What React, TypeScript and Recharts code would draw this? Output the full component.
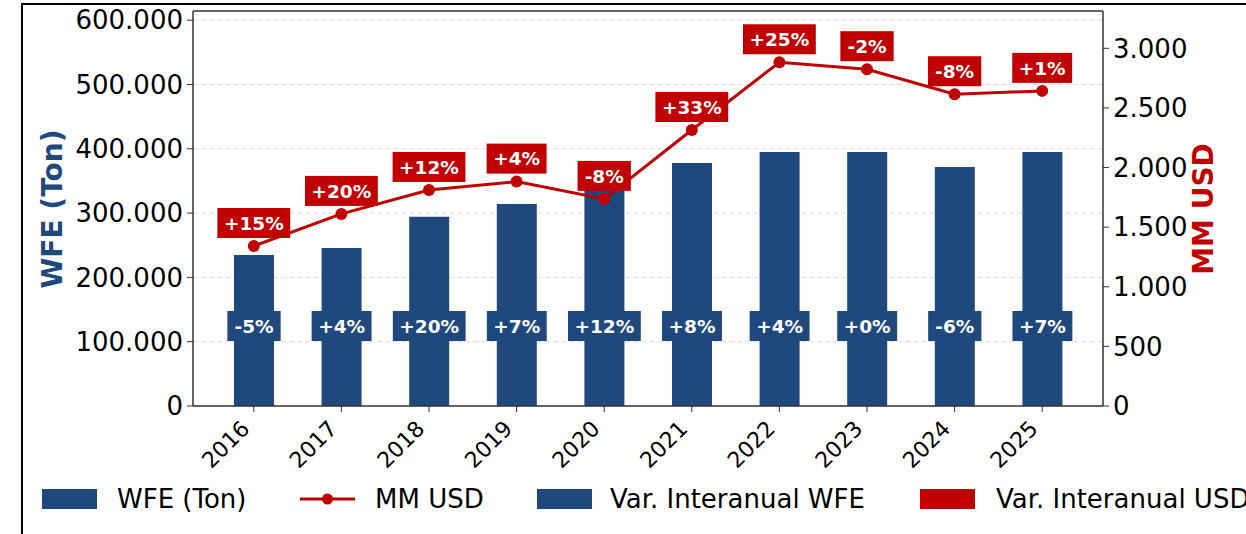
import React from "react";
import {
  ComposedChart,
  Bar,
  Line,
  XAxis,
  YAxis,
  CartesianGrid,
  LabelList,
  ReferenceLine,
} from "recharts";

const years = ["2016", "2017", "2018", "2019", "2020", "2021", "2022", "2023", "2024", "2025"];
const wfeTon = [234800, 245700, 294400, 314000, 350000, 377900, 395000, 395000, 371700, 395000];
const mmUsd = [1342, 1611, 1812, 1882, 1737, 2315, 2883, 2825, 2615, 2643];
const varWfe = ["-5%", "+4%", "+20%", "+7%", "+12%", "+8%", "+4%", "+0%", "-6%", "+7%"];
const varUsd = ["+15%", "+20%", "+12%", "+4%", "-8%", "+33%", "+25%", "-2%", "-8%", "+1%"];
const leftTicks = [0, 100000, 200000, 300000, 400000, 500000, 600000];
const rightTicks = [0, 500, 1000, 1500, 2000, 2500, 3000];

const BLUE = "#1f497d";
const RED = "#c00000";
const FONT = "DejaVu Sans";
const LEFT_MAX = 614300;
const RIGHT_MAX = 3313;
const BADGE_FONT = 18.5;

const data = years.map((year, i) => ({
  year,
  wfe: wfeTon[i],
  usd: mmUsd[i],
  varWfe: varWfe[i],
  varUsd: varUsd[i],
}));

// thousands with a dot, like 600.000
const fmt = (v: number) => String(v).replace(/\B(?=(\d{3})+(?!\d))/g, ".");

// rough width of the bold badge text
const textWidth = (s: string) => {
  let w = 0;
  for (const c of s) {
    if (c === "%") w += 1.002;
    else if (c === "+") w += 0.838;
    else if (c === "-") w += 0.479;
    else w += 0.696;
  }
  return w * BADGE_FONT;
};

const Badge = ({ cx, cy, text, fill }: { cx: number; cy: number; text: string; fill: string }) => {
  const w = textWidth(text) + 13;
  return (
    <g>
      <rect x={cx - w / 2} y={cy - 15} width={w} height={30} fill={fill} />
      <text
        x={cx}
        y={cy}
        dy="0.36em"
        textAnchor="middle"
        fill="#fff"
        fontFamily={FONT}
        fontWeight="bold"
        fontSize={BADGE_FONT}
      >
        {text}
      </text>
    </g>
  );
};

const BarBadge = (props: any) => {
  const { x, y, width, height, value } = props;
  return <Badge cx={x + width / 2} cy={y + height - 80} text={value} fill={BLUE} />;
};

const LineBadge = (props: any) => {
  const { x, y, value } = props;
  return <Badge cx={x} cy={y - 23} text={value} fill={RED} />;
};

const YearTick = (props: any) => {
  const { x, y, payload } = props;
  return (
    <g transform={`translate(${x - 3},${y + 16}) rotate(-45)`}>
      <text textAnchor="end" fill="#000" fontFamily={FONT} fontSize={22}>
        {payload.value}
      </text>
    </g>
  );
};

const LeftLabel = () => (
  <text
    x={52}
    y={209}
    transform="rotate(-90, 52, 209)"
    textAnchor="middle"
    dy="0.36em"
    fill={BLUE}
    fontFamily={FONT}
    fontWeight="bold"
    fontSize={28}
  >
    WFE (Ton)
  </text>
);

const RightLabel = () => (
  <text
    x={1203}
    y={209}
    transform="rotate(-90, 1203, 209)"
    textAnchor="middle"
    dy="0.36em"
    fill={RED}
    fontFamily={FONT}
    fontWeight="bold"
    fontSize={28}
  >
    MM USD
  </text>
);

const legendText: React.CSSProperties = {
  position: "absolute",
  top: 482,
  fontFamily: FONT,
  fontSize: 26,
  lineHeight: "34px",
  color: "#000",
  whiteSpace: "nowrap",
};

function Legend() {
  return (
    <>
      <div style={{ position: "absolute", left: 42, top: 489, width: 55, height: 20, background: BLUE }} />
      <div style={{ ...legendText, left: 117 }}>WFE (Ton)</div>
      <svg style={{ position: "absolute", left: 300, top: 489 }} width={56} height={20}>
        <line x1={0} y1={10} x2={55} y2={10} stroke={RED} strokeWidth={3} />
        <circle cx={27.5} cy={10} r={5.5} fill={RED} />
      </svg>
      <div style={{ ...legendText, left: 375 }}>MM USD</div>
      <div style={{ position: "absolute", left: 537, top: 489, width: 55, height: 20, background: BLUE }} />
      <div style={{ ...legendText, left: 610 }}>Var. Interanual WFE</div>
      <div style={{ position: "absolute", left: 920, top: 489, width: 55, height: 20, background: RED }} />
      <div style={{ ...legendText, left: 996 }}>Var. Interanual USD</div>
    </>
  );
}

export default function App() {
  return (
    <div
      style={{
        position: "absolute",
        left: 0,
        top: 0,
        width: 1246,
        height: 534,
        overflow: "hidden",
        background: "#fff",
      }}
    >
      <div
        style={{
          position: "absolute",
          left: 21,
          top: 3,
          width: 2000,
          height: 2000,
          borderTop: "2px solid #000",
          borderLeft: "2px solid #000",
        }}
      />
      <ComposedChart
        width={1246}
        height={534}
        data={data}
        margin={{ top: 11, right: 0, bottom: 60, left: 0 }}
        style={{ position: "absolute", left: 0, top: 0 }}
      >
        <CartesianGrid yAxisId="left" vertical={false} stroke="#dddddd" strokeDasharray="5 3" />
        <XAxis
          dataKey="year"
          height={68}
          padding={{ left: 17, right: 17 }}
          tick={<YearTick />}
          tickSize={6}
          axisLine={{ stroke: "#333", strokeWidth: 1.5 }}
          tickLine={{ stroke: "#333" }}
          interval={0}
        />
        <YAxis
          yAxisId="left"
          width={193}
          domain={[0, LEFT_MAX]}
          ticks={leftTicks}
          tickFormatter={fmt}
          tick={{ fill: "#000", fontFamily: FONT, fontSize: 26 }}
          tickSize={6}
          tickMargin={4}
          axisLine={{ stroke: "#333", strokeWidth: 1.5 }}
          tickLine={{ stroke: "#333" }}
          label={<LeftLabel />}
        />
        <YAxis
          yAxisId="right"
          orientation="right"
          width={143}
          domain={[0, RIGHT_MAX]}
          ticks={rightTicks}
          tickFormatter={fmt}
          tick={{ fill: "#000", fontFamily: FONT, fontSize: 26 }}
          tickSize={6}
          tickMargin={4}
          axisLine={{ stroke: "#333", strokeWidth: 1.5 }}
          tickLine={{ stroke: "#333" }}
          label={<RightLabel />}
        />
        <ReferenceLine yAxisId="left" y={LEFT_MAX} stroke="#333" strokeWidth={1.5} />
        <Bar yAxisId="left" dataKey="wfe" fill={BLUE} barSize={40} isAnimationActive={false}>
          <LabelList dataKey="varWfe" content={<BarBadge />} />
        </Bar>
        <Line
          yAxisId="right"
          dataKey="usd"
          type="linear"
          stroke={RED}
          strokeWidth={3}
          dot={{ r: 6, fill: RED, stroke: RED, strokeWidth: 0 }}
          isAnimationActive={false}
        >
          <LabelList dataKey="varUsd" content={<LineBadge />} />
        </Line>
      </ComposedChart>
      <Legend />
    </div>
  );
}
